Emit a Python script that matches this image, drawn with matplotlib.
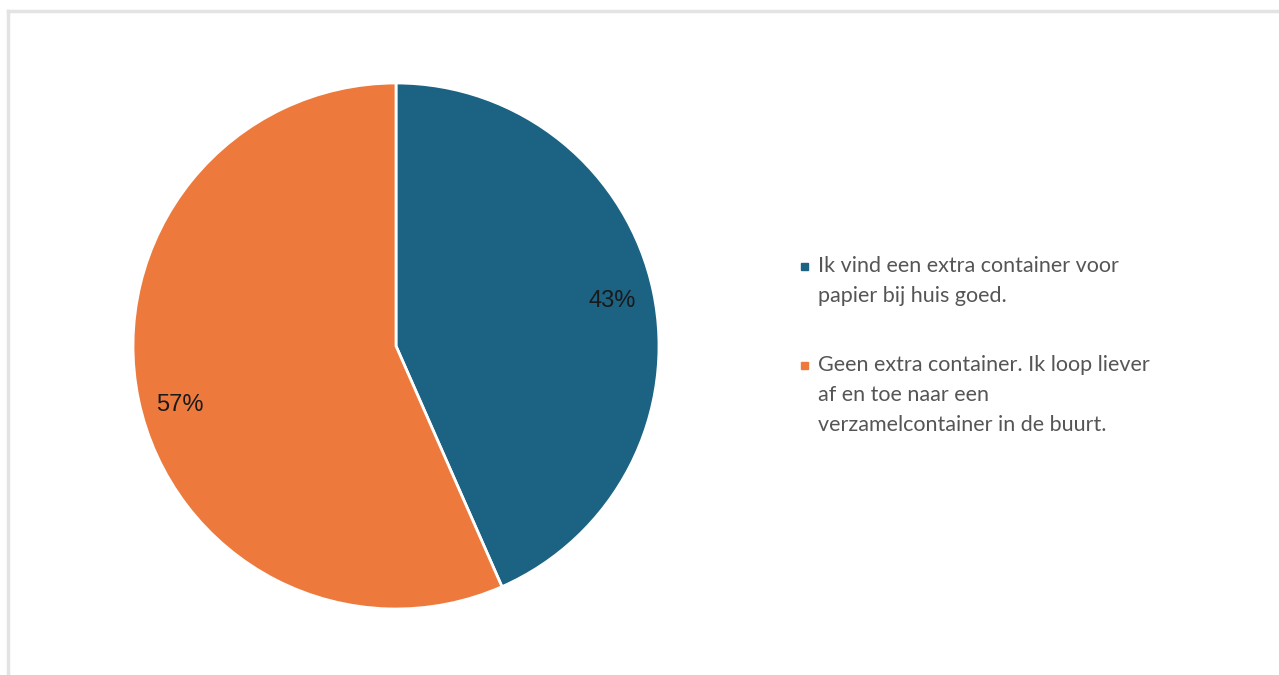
import matplotlib.pyplot as plt
from matplotlib.patches import Rectangle

LABELS = [
    "Ik vind een extra container voor\npapier bij huis goed.",
    "Geen extra container. Ik loop liever\naf en toe naar een\nverzamelcontainer in de buurt.",
]
SHARES = [43.4, 56.6]
COLORS = ["#1C6283", "#ED7A3C"]


def main():
    fig = plt.figure(figsize=(12.79, 6.75), dpi=100)
    fig.patch.set_facecolor("white")

    # light frame at top and left edge
    fig.add_artist(plt.Line2D([8 / 1279, 1], [1 - 11 / 675] * 2, color="#e3e3e3", lw=2.5))
    fig.add_artist(plt.Line2D([8 / 1279] * 2, [0, 1 - 11 / 675], color="#e3e3e3", lw=2.5))

    ax = fig.add_axes([133 / 1279, (675 - 609) / 675, 526 / 1279, 526 / 675])
    _, _, autotexts = ax.pie(
        SHARES,
        colors=COLORS,
        startangle=90,
        counterclock=False,
        autopct="%.0f%%",
        pctdistance=0.84,
        wedgeprops=dict(edgecolor="white", linewidth=2),
        textprops=dict(fontsize=17, color="#1a1a1a", family="Liberation Sans"),
    )
    # the 57% label sits a bit lower in the original
    x, y = autotexts[1].get_position()
    autotexts[1].set_position((x, y - 0.05))
    ax.set_xlim(-1, 1)
    ax.set_ylim(-1, 1)
    ax.set_aspect("equal")

    # legend drawn by hand so the square sits on the first line
    tops = [256, 355]
    for label, color, top in zip(LABELS, COLORS, tops):
        fig.patches.append(Rectangle((801 / 1279, 1 - (top + 14) / 675),
                                     7 / 1279, 7 / 675, color=color,
                                     transform=fig.transFigure))
        fig.text(818 / 1279, 1 - top / 675, label, fontsize=15.5, color="#555555",
                 family="Lato", va="top", ha="left", linespacing=1.62)

    fig.savefig("out.png", dpi=100)
    plt.close(fig)


if __name__ == "__main__":
    main()
